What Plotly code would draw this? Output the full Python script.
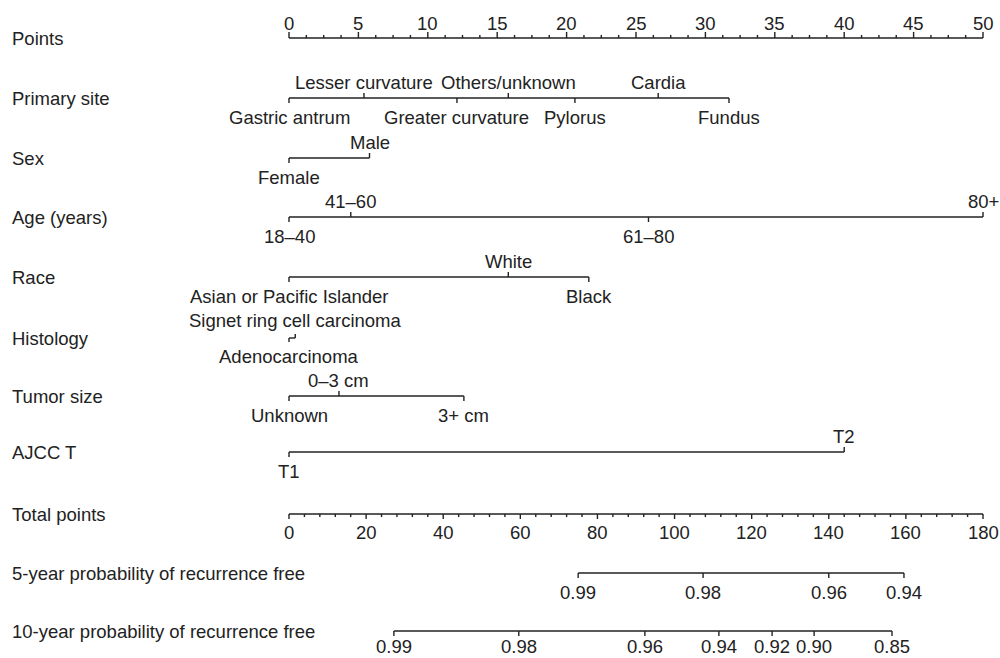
import plotly.graph_objects as go
import numpy as np

# ---------------- data ----------------
row_titles = ["Points", "Primary site", "Sex", "Age (years)", "Race", "Histology",
              "Tumor size", "AJCC T", "Total points",
              "5-year probability of recurrence free",
              "10-year probability of recurrence free"]

points_major = list(range(0, 51, 5))
total_major = list(range(0, 181, 20))

site_labels = ["Gastric antrum", "Lesser curvature", "Greater curvature", "Others/unknown",
               "Pylorus", "Cardia", "Fundus"]
site_points = [0, 5.4, 12.1, 15.8, 20.6, 26.6, 31.7]

sex_labels = ["Female", "Male"]
sex_points = [0, 5.8]

age_labels = ["18–40", "41–60", "61–80", "80+"]
age_points = [0, 4.45, 25.9, 50]

race_labels = ["Asian or Pacific Islander", "White", "Black"]
race_points = [0, 15.8, 21.6]

hist_labels = ["Adenocarcinoma", "Signet ring cell carcinoma"]
hist_points = [0, 0.45]

size_labels = ["Unknown", "0–3 cm", "3+ cm"]
size_points = [0, 3.6, 12.6]

t_labels = ["T1", "T2"]
t_points = [0, 40.0]

p5_labels = ["0.99", "0.98", "0.96", "0.94"]
p5_total = [75.0, 107.4, 140.0, 159.5]

p10_labels = ["0.99", "0.98", "0.96", "0.94", "0.92", "0.90", "0.85"]
p10_total = [27.2, 59.6, 92.3, 111.5, 125.3, 136.2, 156.4]

# ---------------- layout constants ----------------
W, H = 1000, 658
X0_PX, X1_PX = 289, 983          # span of 0..50 points / 0..180 total
PPX = (X1_PX - X0_PX) / 50.0
xr = [-X0_PX / PPX, (W - X0_PX) / PPX]
x2r = [v * 3.6 for v in xr]

row_y = [38, 98, 158, 217, 277, 338, 396, 452, 514, 573, 631]
FONT = "Liberation Sans, Arial, Helvetica, sans-serif"
FS = 18.5
COL = "#222222"
LW = 1.4

fig = go.Figure()
annotations = []

def seg_trace(xs, ys, axis="x"):
    fig.add_trace(go.Scatter(x=xs, y=ys, mode="lines", xaxis=axis, yaxis="y",
                             line=dict(color=COL, width=LW), hoverinfo="skip",
                             showlegend=False))

def label(x, y, text, axis="x"):
    annotations.append(dict(x=x, y=y, xref=axis, yref="y", text=text, showarrow=False,
                            font=dict(family=FONT, size=FS, color=COL),
                            xanchor="center", yanchor="middle", borderpad=0))

# row titles
for t, y in zip(row_titles, row_y):
    annotations.append(dict(x=0.010, y=y, xref="paper", yref="y", text=t, showarrow=False,
                            font=dict(family=FONT, size=FS, color=COL),
                            xanchor="left", yanchor="middle"))

# Points axis (ticks up, labels above)
y = row_y[0]
xs, ys = [0, 50, None], [y, y, None]
for v in np.arange(0, 50.001, 1.25):
    L = 6 if abs(v % 5) < 1e-9 else 3
    xs += [v, v, None]; ys += [y, y - L, None]
seg_trace(xs, ys)
for v in points_major:
    label(v, y - 15, str(v))

# Variable rows
def var_row(labels, pts, y, up_off=-16, down_off=19, tick=5):
    order = np.argsort(pts, kind="stable")
    xs, ys = [min(pts), max(pts), None], [y, y, None]
    for rank, i in enumerate(order):
        above = rank % 2 == 1
        yt = y - tick if above else y + tick
        xs += [pts[i], pts[i], None]; ys += [y, yt, None]
        label(pts[i], y + (up_off if above else down_off), labels[i])
    seg_trace(xs, ys)

var_row(site_labels, site_points, row_y[1])
var_row(sex_labels, sex_points, row_y[2])
var_row(age_labels, age_points, row_y[3])
var_row(race_labels, race_points, row_y[4])
var_row(hist_labels, hist_points, row_y[5], up_off=-18, down_off=18, tick=4)
var_row(size_labels, size_points, row_y[6])
var_row(t_labels, t_points, row_y[7])

# Total points axis (ticks down, labels below)
y = row_y[8]
xs, ys = [0, 180, None], [y, y, None]
for v in range(0, 181, 4):
    L = 5 if v % 20 == 0 else 3
    xs += [v, v, None]; ys += [y, y + L, None]
seg_trace(xs, ys, "x2")
for v in total_major:
    label(v, y + 18, str(v), "x2")

# probability rows
def prob_row(labels, tot, y, off=19):
    xs, ys = [min(tot), max(tot), None], [y, y, None]
    for v in tot:
        xs += [v, v, None]; ys += [y, y + 5, None]
    seg_trace(xs, ys, "x2")
    for lab, v in zip(labels, tot):
        label(v, y + off, lab, "x2")

prob_row(p5_labels, p5_total, row_y[9])
prob_row(p10_labels, p10_total, row_y[10], off=15)

fig.update_layout(
    width=W, height=H,
    margin=dict(l=0, r=0, t=0, b=0),
    paper_bgcolor="white", plot_bgcolor="white",
    xaxis=dict(range=xr, visible=False, fixedrange=True),
    xaxis2=dict(range=x2r, visible=False, overlaying="x", fixedrange=True),
    yaxis=dict(range=[H, 0], visible=False, fixedrange=True),
    annotations=annotations,
    showlegend=False,
)

fig.write_html("out.html", config={"displayModeBar": False},
               post_script="document.body.style.margin='0';document.body.style.overflow='hidden';")
